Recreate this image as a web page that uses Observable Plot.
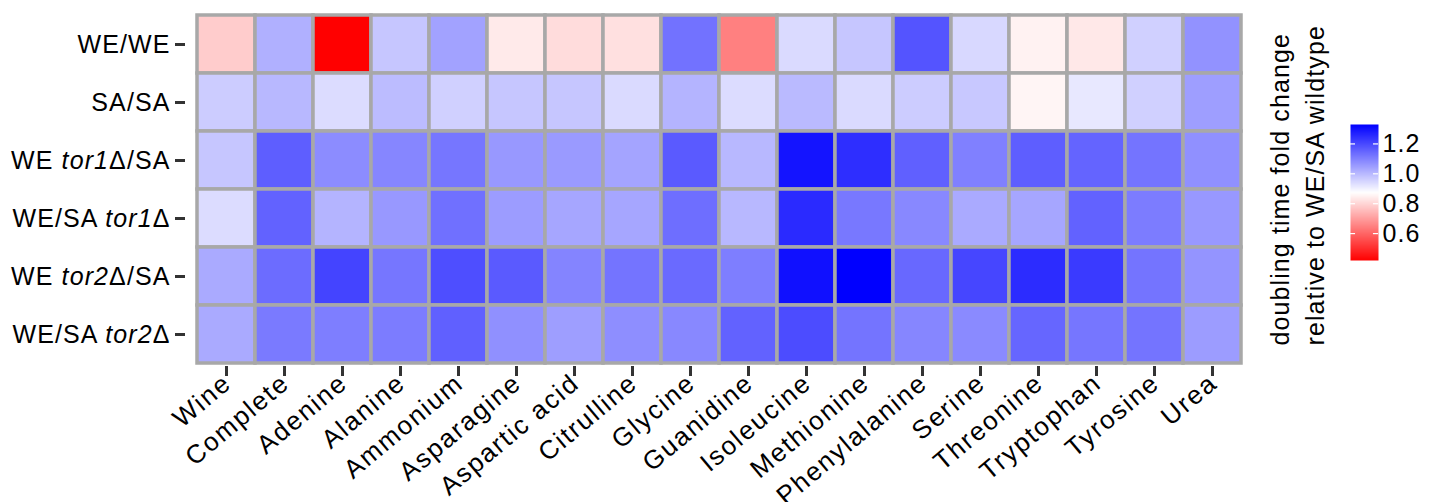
<!DOCTYPE html>
<html>
<head>
<meta charset="utf-8">
<script src="https://cdn.jsdelivr.net/npm/d3@7"></script>
<script src="https://cdn.jsdelivr.net/npm/@observablehq/plot@0.6"></script>
<style>
  html, body { margin: 0; padding: 0; background: #fff; }
  #chart { position: relative; width: 1431px; height: 502px; overflow: hidden; }
  #chart svg { position: absolute; left: 0; top: 0; }
</style>
</head>
<body>
<div id="chart"></div>
<script>
// Growth media (columns)
const media = ["Wine", "Complete", "Adenine", "Alanine", "Ammonium", "Asparagine",
  "Aspartic acid", "Citrulline", "Glycine", "Guanidine", "Isoleucine", "Methionine",
  "Phenylalanine", "Serine", "Threonine", "Tryptophan", "Tyrosine", "Urea"];

// Strains (rows, top to bottom)
const strains = ["WE/WE", "SA/SA", "WE tor1Δ/SA", "WE/SA tor1Δ", "WE tor2Δ/SA", "WE/SA tor2Δ"];

// Doubling time fold change relative to WE/SA wildtype, one array per strain (in media order)
const weWe = [0.784, 1.016, 0.420, 0.977, 1.041, 0.838, 0.813, 0.820, 1.127, 0.648,
  0.941, 0.977, 1.180, 0.945, 0.852, 0.834, 0.959, 1.070];
const saSa = [0.966, 1.002, 0.937, 0.995, 0.959, 0.977, 0.977, 0.941, 1.009, 0.937,
  0.998, 0.941, 0.966, 0.973, 0.857, 0.916, 0.959, 1.048];
const weTor1Sa = [0.977, 1.162, 1.080, 1.091, 1.119, 1.059, 1.055, 1.037, 1.169, 1.002,
  1.294, 1.248, 1.159, 1.102, 1.162, 1.152, 1.123, 1.073];
const weSaTor1 = [0.937, 1.155, 1.009, 1.059, 1.130, 1.052, 1.034, 1.034, 1.134, 1.002,
  1.255, 1.116, 1.087, 1.027, 1.034, 1.155, 1.109, 1.059];
const weTor2Sa = [1.027, 1.137, 1.209, 1.119, 1.191, 1.169, 1.094, 1.123, 1.141, 1.105,
  1.301, 1.330, 1.144, 1.205, 1.251, 1.226, 1.123, 1.066];
const weSaTor2 = [1.027, 1.112, 1.105, 1.109, 1.159, 1.073, 1.048, 1.077, 1.087, 1.155,
  1.194, 1.123, 1.091, 1.084, 1.148, 1.119, 1.123, 1.052];

// Colour bar tick values
const legendTicks = [0.6, 0.8, 1.0, 1.2];
const legendTitle = "doubling time fold change\nrelative to WE/SA wildtype";

const rows = [weWe, saSa, weTor1Sa, weSaTor1, weTor2Sa, weSaTor2];
const data = strains.flatMap((strain, i) =>
  media.map((medium, j) => ({strain, medium, value: rows[i][j]})));

const [lo, hi] = d3.extent(data, d => d.value);
const ramp = d3.piecewise(d3.interpolateRgb, ["red", "white", "blue"]);
const colorScale = {type: "linear", domain: [lo, hi], interpolate: ramp};

const font = {
  fontFamily: "'Liberation Sans', Arial, Helvetica, sans-serif",
  fontSize: "25px",
  letterSpacing: "1.1px",
  color: "black",
  background: "transparent",
  overflow: "visible"
};

const heat = Plot.plot({
  width: 1431,
  height: 502,
  marginLeft: 192,
  marginRight: 186,
  marginTop: 13.5,
  marginBottom: 138,
  style: font,
  x: {domain: media, padding: 0, label: null},
  y: {domain: strains, padding: 0, label: null},
  color: colorScale,
  marks: [
    Plot.cell(data, {x: "medium", y: "strain", fill: "value", stroke: "#a8a8a8", strokeWidth: 3.5}),
    Plot.axisY({anchor: "left", tickSize: 10, tickPadding: 5, dx: -7, stroke: "#333333",
      strokeWidth: 3, fill: "black", label: null}),
    // tick marks below the panel
    Plot.axisX({anchor: "bottom", tickSize: 10, tickFormat: () => "", dy: 2,
      stroke: "#333333", strokeWidth: 3, label: null}),
    // slanted medium names
    Plot.axisX({anchor: "bottom", tickSize: 0, tickPadding: 15, dx: 1, tickRotate: -40,
      fill: "black", label: null, fontSize: 26})
  ]
});

// Slightly wider tracking for the slanted names
d3.select(heat).selectAll('g[aria-label="x-axis tick label"] text').style("letter-spacing", "1.8px");

// Italicise the gene names in the strain labels
d3.select(heat).selectAll('g[aria-label="y-axis tick label"] text').each(function () {
  const label = this.textContent;
  const parts = label.split(/(tor[12])/).filter(s => s.length);
  const t = d3.select(this).text(null);
  parts.forEach(p => {
    t.append("tspan").attr("font-style", /^tor[12]$/.test(p) ? "italic" : null).text(p);
  });
});

const legend = Plot.plot({
  width: 1431,
  height: 502,
  margin: 0,
  style: font,
  x: {domain: [0, 1], range: [1350, 1378], axis: null},
  y: {domain: [lo, hi], range: [260, 124], axis: null},
  color: colorScale,
  marks: [
    Plot.raster({fill: (x, y) => y, x1: 0, x2: 1, y1: lo, y2: hi, width: 1, height: 136}),
    Plot.ruleY(legendTicks, {x1: 0, x2: 0.18, stroke: "white", strokeWidth: 1.2}),
    Plot.ruleY(legendTicks, {x1: 0.82, x2: 1, stroke: "white", strokeWidth: 1.2}),
    Plot.text(legendTicks, {x: 1, y: d => d, text: d => d.toFixed(1), textAnchor: "start", dx: 4, fill: "black"}),
    Plot.text([legendTitle], {frameAnchor: "bottom-left", dx: 1323, dy: -157, rotate: -90,
      textAnchor: "start", lineAnchor: "bottom", lineHeight: 1.38, fill: "black"})
  ]
});

document.getElementById("chart").append(heat, legend);
</script>
</body>
</html>
